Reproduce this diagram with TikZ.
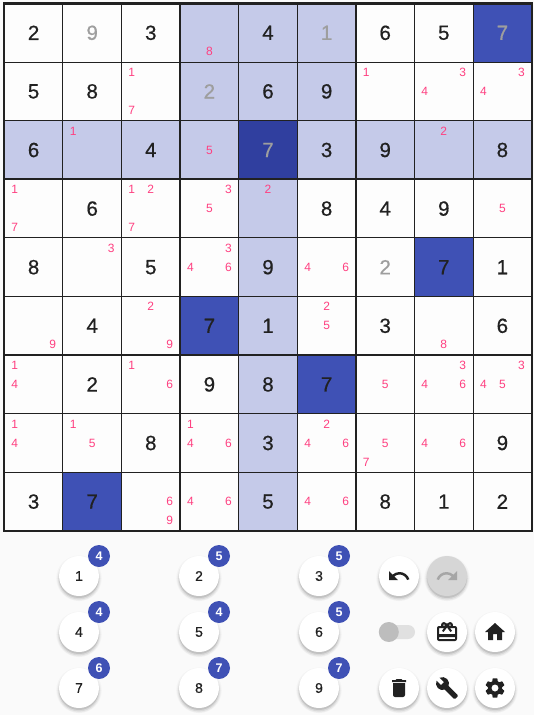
\documentclass[tikz,border=0pt]{standalone}
\usepackage{xcolor}
\usepackage{fontspec}
\setmainfont{Liberation Sans}
\newfontfamily\digitfont[FakeBold=0.6]{Liberation Sans}
\usetikzlibrary{calc, shadows, svg.path}
\definecolor{BoardPage}{HTML}{FAFAFA}
\definecolor{BoardPlain}{HTML}{FDFDFD}
\definecolor{BoardLight}{HTML}{C5CAE9}
\definecolor{BoardMid}{HTML}{3F51B5}
\definecolor{BoardDark}{HTML}{303F9F}
\definecolor{BoardLine}{HTML}{212121}
\definecolor{BoardFaded}{HTML}{9E9E9E}
\definecolor{BoardPencil}{HTML}{FF4081}
\definecolor{PadInk}{HTML}{212121}
\newcommand{\undopath}{M 12.5 8 c -2.65 0 -5.05 .99 -6.9 2.6 L 2 7 v 9 h 9 l -3.62 -3.62 c 1.39 -1.16 3.16 -1.88 5.12 -1.88 c 3.54 0 6.55 2.31 7.6 5.5 l 2.37 -.78 C 21.08 11.03 17.15 8 12.5 8 z}
\newcommand{\redopath}{M 18.4 10.6 C 16.55 8.99 14.15 8 11.5 8 c -4.65 0 -8.58 3.03 -9.96 7.22 L 3.9 16 c 1.05 -3.19 4.05 -5.5 7.6 -5.5 c 1.95 0 3.73 .72 5.12 1.88 L 13 16 h 9 V 7 l -3.6 3.6 z}
\newcommand{\homepath}{M 10 20 v -6 h 4 v 6 h 5 v -8 h 3 L 12 3 L 2 12 h 3 v 8 z}
\newcommand{\trashpath}{M 6 19 c 0 1.1 .9 2 2 2 h 8 c 1.1 0 2 -.9 2 -2 V 7 H 6 v 12 z M 19 4 h -3.5 l -1 -1 h -5 l -1 1 H 5 v 2 h 14 V 4 z}
\newcommand{\wrenchpath}{M 22.7 19 l -9.1 -9.1 c .9 -2.3 .4 -5 -1.5 -6.9 c -2 -2 -5 -2.4 -7.4 -1.3 L 9 6 L 6 9 L 1.6 4.7 C .4 7.1 .9 10.1 2.9 12.1 c 1.9 1.9 4.6 2.4 6.9 1.5 l 9.1 9.1 c .4 .4 1 .4 1.4 0 l 2.3 -2.3 c .5 -.4 .5 -1.1 .1 -1.4 z}
\newcommand{\gearpath}{M 19.14 12.94 c .04 -.3 .06 -.61 .06 -.94 c 0 -.32 -.02 -.64 -.07 -.94 l 2.03 -1.58 c .18 -.14 .23 -.41 .12 -.61 l -1.92 -3.32 c -.12 -.22 -.37 -.29 -.59 -.22 l -2.39 .96 c -.5 -.38 -1.03 -.7 -1.62 -.94 l -.36 -2.54 c -.04 -.24 -.24 -.41 -.48 -.41 h -3.84 c -.24 0 -.43 .17 -.47 .41 l -.36 2.54 c -.59 .24 -1.13 .57 -1.62 .94 l -2.39 -.96 c -.22 -.08 -.47 0 -.59 .22 L 2.74 8.87 c -.12 .21 -.08 .47 .12 .61 l 2.03 1.58 c -.05 .3 -.09 .63 -.09 .94 c 0 .31 .02 .64 .07 .94 l -2.03 1.58 c -.18 .14 -.23 .41 -.12 .61 l 1.92 3.32 c .12 .22 .37 .29 .59 .22 l 2.39 -.96 c .5 .38 1.03 .7 1.62 .94 l .36 2.54 c .05 .24 .24 .41 .48 .41 h 3.84 c .24 0 .44 -.17 .47 -.41 l .36 -2.54 c .59 -.24 1.13 -.56 1.62 -.94 l 2.39 .96 c .22 .08 .47 0 .59 -.22 l 1.92 -3.32 c .12 -.22 .07 -.47 -.12 -.61 l -2.01 -1.58 z M 12 15.6 c -1.98 0 -3.6 -1.62 -3.6 -3.6 c 0 -1.98 1.62 -3.6 3.6 -3.6 c 1.98 0 3.6 1.62 3.6 3.6 c 0 1.98 -1.62 3.6 -3.6 3.6 z}
\newcommand{\giftpath}{M 20 6 h -2.18 c .11 -.31 .18 -.65 .18 -1 c 0 -1.66 -1.34 -3 -3 -3 c -1.05 0 -1.96 .54 -2.5 1.35 l -.5 .67 l -.5 -.68 C 10.96 2.54 10.05 2 9 2 C 7.34 2 6 3.34 6 5 c 0 .35 .07 .69 .18 1 H 4 c -1.11 0 -1.99 .89 -1.99 2 L 2 19 c 0 1.11 .89 2 2 2 h 16 c 1.11 0 2 -.89 2 -2 V 8 c 0 -1.11 -.89 -2 -2 -2 z m -5 -2 c .55 0 1 .45 1 1 c 0 .55 -.45 1 -1 1 c -.55 0 -1 -.45 -1 -1 c 0 -.55 .45 -1 1 -1 z M 9 4 c .55 0 1 .45 1 1 c 0 .55 -.45 1 -1 1 c -.55 0 -1 -.45 -1 -1 c 0 -.55 .45 -1 1 -1 z m 11 15 H 4 v -2 h 16 v 2 z m 0 -5 H 4 V 8 h 5.08 L 7 10.83 L 8.62 12 L 11 8.76 l 1 -1.36 l 1 1.36 L 15.38 12 L 17 10.83 L 14.92 8 H 20 v 6 z}
\newcommand{\padiconraw}[3]{\fill[#2, shift={(#3.center)}, xshift=-12pt, yshift=12pt, yscale=-1] svg {#1};}
\newcommand{\padicon}[3][icon]{\expandafter\padiconraw\expandafter{#3}{#1}{#2}}

\begin{document}
\begin{tikzpicture}[x=1pt, y=-1pt]
  \tikzset{
    cell/.style={rectangle, draw=BoardLine, line width=1pt, inner sep=0pt, outer sep=0pt, minimum size=58.6pt},
    boxline/.style={draw=BoardLine, line width=2.2pt},
    digit/.style={inner sep=0pt, text=PadInk, font={\digitfont\fontsize{20.5}{20.5}\selectfont}},
    faded/.style={digit, text=BoardFaded},
    pencil/.style={inner sep=0pt, text=BoardPencil, font={\fontsize{12}{12}\selectfont}},
    softshadow/.style={
      general shadow={shadow yshift=-2pt, shadow scale=1.14, fill=black, fill opacity=.025},
      general shadow={shadow yshift=-2.5pt, shadow scale=1.09, fill=black, fill opacity=.04},
      general shadow={shadow yshift=-2.5pt, shadow scale=1.04, fill=black, fill opacity=.07},
      general shadow={shadow yshift=-2pt, shadow scale=1.0, fill=black, fill opacity=.10}},
    padbtn/.style={circle, fill=white, inner sep=0pt, minimum size=40pt, text=PadInk, font={\digitfont\fontsize{14}{14}\selectfont}, softshadow},
    offbtn/.style={padbtn, fill=black!16},
    badge/.style={circle, fill=BoardMid, inner sep=0pt, minimum size=22pt, text=white, font={\bfseries\fontsize{12.5}{12.5}\selectfont}},
    icon/.style={fill=PadInk, even odd rule}
  }

  \fill[BoardPage] (0,0) rectangle (534,715);

  % board cells
  \foreach \r in {1,...,9}
    \foreach \c in {1,...,9} {
      \pgfmathsetmacro{\cellx}{4.3+58.6*(\c-0.5)}
      \pgfmathsetmacro{\celly}{3.5+58.6*(\r-0.5)}
      \pgfmathparse{ifthenelse(\r==3&&\c==5, "BoardDark",
        ifthenelse((\r==1&&\c==9)||(\r==5&&\c==8)||(\r==6&&\c==4)||(\r==7&&\c==6)||(\r==9&&\c==2), "BoardMid",
        ifthenelse(\r==3||\c==5||(\r<=3&&\c>=4&&\c<=6), "BoardLight", "BoardPlain")))}
      \edef\celltone{\pgfmathresult}
      \node[cell, fill=\celltone] (cell-\r-\c) at (\cellx,\celly) {};
    }

  % thick lines round the boxes
  \foreach \r in {1,4,7}
    \foreach \c in {1,4,7} {
      \pgfmathtruncatemacro{\rr}{\r+2}
      \pgfmathtruncatemacro{\cc}{\c+2}
      \draw[boxline] (cell-\r-\c.north west) rectangle (cell-\rr-\cc.south east);
    }

  % filled in numbers
  \foreach \r/\c/\d in {1/1/2, 1/3/3, 1/5/4, 1/7/6, 1/8/5,
      2/1/5, 2/2/8, 2/5/6, 2/6/9,
      3/1/6, 3/3/4, 3/6/3, 3/7/9, 3/9/8,
      4/2/6, 4/6/8, 4/7/4, 4/8/9,
      5/1/8, 5/3/5, 5/5/9, 5/8/7, 5/9/1,
      6/2/4, 6/4/7, 6/5/1, 6/7/3, 6/9/6,
      7/2/2, 7/4/9, 7/5/8, 7/6/7,
      8/3/8, 8/5/3, 8/9/9,
      9/1/3, 9/2/7, 9/5/5, 9/7/8, 9/8/1, 9/9/2}
    \node[digit] (num-\r-\c) at (cell-\r-\c) {\d};
  \foreach \r/\c/\d in {1/2/9, 1/6/1, 1/9/7, 2/4/2, 3/5/7, 5/7/2}
    \node[faded] (num-\r-\c) at (cell-\r-\c) {\d};

  % pencil marks, 3x3 inside a cell
  \foreach \r/\c/\m in {1/4/8, 2/3/1, 2/3/7, 2/7/1, 2/8/3, 2/8/4, 2/9/3, 2/9/4,
      3/2/1, 3/4/5, 3/8/2,
      4/1/1, 4/1/7, 4/3/1, 4/3/2, 4/3/7, 4/4/3, 4/4/5, 4/5/2, 4/9/5,
      5/2/3, 5/4/3, 5/4/4, 5/4/6, 5/6/4, 5/6/6,
      6/1/9, 6/3/2, 6/3/9, 6/6/2, 6/6/5, 6/8/8,
      7/1/1, 7/1/4, 7/3/1, 7/3/6, 7/7/5, 7/8/3, 7/8/4, 7/8/6, 7/9/3, 7/9/4, 7/9/5,
      8/1/1, 8/1/4, 8/2/1, 8/2/5, 8/4/1, 8/4/4, 8/4/6, 8/6/2, 8/6/4, 8/6/6, 8/7/5, 8/7/7, 8/8/4, 8/8/6,
      9/3/6, 9/3/9, 9/4/4, 9/4/6, 9/6/4, 9/6/6} {
    \pgfmathtruncatemacro{\mi}{mod(\m-1,3)-1}
    \pgfmathtruncatemacro{\mj}{int((\m-1)/3)-1}
    \node[pencil] (pm-\r-\c-\m) at ($(cell-\r-\c)+(19*\mi,19*\mj)$) {\m};
  }

  % number pad with counts
  \foreach \n/\cnt/\x/\y in {1/4/79/576, 2/5/199/576, 3/5/319/576,
      4/4/79/632, 5/4/199/632, 6/5/319/632,
      7/6/79/688, 8/7/199/688, 9/7/319/688} {
    \node[padbtn] (pad-\n) at (\x,\y) {\n};
    \node[badge] (count-\n) at ($(pad-\n)+(20,-20)$) {\cnt};
  }

  % tool buttons
  \foreach \name/\x/\y in {undo/399/576, gift/447/632, home/495/632, trash/399/688, wrench/447/688, gear/495/688}
    \node[padbtn] (\name) at (\x,\y) {};
  \node[offbtn] (redo) at (447,576) {};

  \node[rectangle, rounded corners=7pt, fill=black!12, inner sep=0pt, minimum width=36pt, minimum height=14pt] (track) at (397,632) {};
  \node[circle, fill=black!26, inner sep=0pt, minimum size=20pt] (knob) at ($(track.west)+(10,0)$) {};

  \padicon{undo}{\undopath}
  \padicon[icon, fill=black!35]{redo}{\redopath}
  \padicon{gift}{\giftpath}
  \padicon{home}{\homepath}
  \padicon{trash}{\trashpath}
  \padicon{wrench}{\wrenchpath}
  \padicon{gear}{\gearpath}
\end{tikzpicture}
\end{document}
